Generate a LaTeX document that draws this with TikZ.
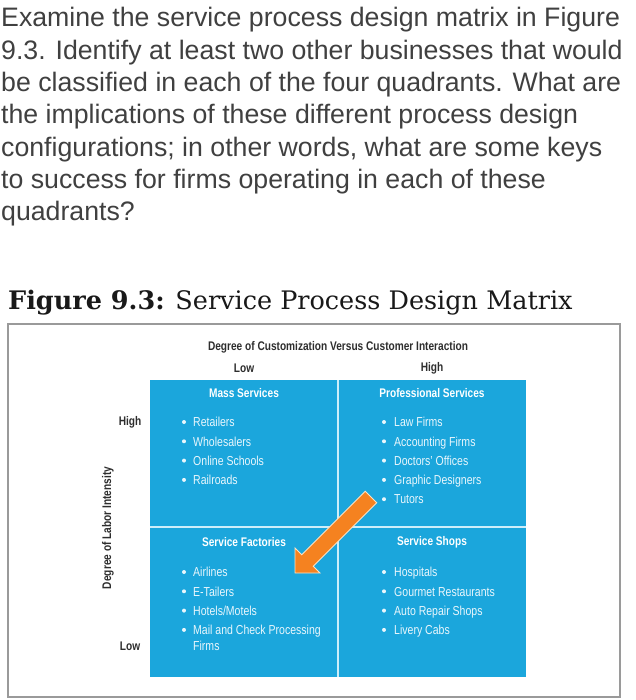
\documentclass[tikz,border=0pt]{standalone}
\usepackage{fontspec}
\setmainfont{Liberation Sans}
\newfontfamily\cond[FakeStretch=0.81]{Liberation Sans}
\newfontfamily\titlefont{DejaVu Serif}
\definecolor{qblue}{HTML}{1BA6DC}
\definecolor{divcol}{HTML}{CDEEFA}
\definecolor{arrowor}{HTML}{F58220}
\definecolor{arrowedge}{HTML}{FBE3C4}
\definecolor{paratext}{HTML}{404040}
\definecolor{labtext}{HTML}{2E2E2E}
\definecolor{framecol}{HTML}{9A9A9A}
\definecolor{celltext}{HTML}{E9F6FC}
\tikzset{
  paraline/.style={anchor=base west, inner sep=0pt, text=paratext, font=\fontsize{26.7}{32}\selectfont},
  axislab/.style={inner sep=0pt, text=labtext, font=\cond\bfseries\fontsize{12.5}{14}\selectfont},
  celltitle/.style={inner sep=0pt, text=white, font=\cond\bfseries\fontsize{12.5}{14}\selectfont},
  item/.style={anchor=base west, inner sep=0pt, text=celltext, font=\cond\fontsize{13}{15}\selectfont},
  bulletdot/.style={circle, fill=celltext, inner sep=0pt, minimum size=4pt},
  divider/.style={divcol, line width=2pt},
}
\begin{document}
\begin{tikzpicture}[x=1pt,y=-1pt]
\useasboundingbox (0,0) rectangle (635,700);
\fill[white] (0,0) rectangle (635,700);

% question paragraph
\node[paraline] (p1) at (1,27) {Examine the service process design matrix in Figure};
\node[paraline] (p2) at (1,59.3) {9.3. Identify at least two other businesses that would};
\node[paraline] (p3) at (1,91.6) {be classified in each of the four quadrants. What are};
\node[paraline] (p4) at (1,123.9) {the implications of these different process design};
\node[paraline] (p5) at (1,156.2) {configurations; in other words, what are some keys};
\node[paraline] (p6) at (1,188.5) {to success for firms operating in each of these};
\node[paraline] (p7) at (1,220.8) {quadrants?};

% figure title
\node[anchor=base west, inner sep=0pt, text=black!90, font=\titlefont\fontsize{25.5}{30}\selectfont] (title) at (8,309)
  {\textbf{Figure 9.3:} Service Process Design Matrix};

% frame
\draw[framecol, line width=1.5pt] (8,324) rectangle (620,697);

% axis labels
\node[axislab] (hdr) at (338,347) {Degree of Customization Versus Customer Interaction};
\node[axislab] (clow) at (244,368) {Low};
\node[axislab] (chigh) at (432,368) {High};
\node[axislab] (rhigh) at (130,422) {High};
\node[axislab] (rlow) at (130,646) {Low};
\node[axislab, rotate=90] (vlab) at (108,528) {Degree of Labor Intensity};

% quadrants
\fill[qblue] (150,380) rectangle (526,677);
\draw[divider] (338,380) -- (338,677);
\draw[divider] (150,527) -- (526,527);

\node[celltitle] (tms) at (244,393) {Mass Services};
\node[celltitle] (tps) at (432,393) {Professional Services};
\node[celltitle] (tsf) at (244,542) {Service Factories};
\node[celltitle] (tss) at (432,542) {Service Shops};

% Mass Services items
\foreach \t/\y [count=\i] in {Retailers/422, Wholesalers/441.3, Online Schools/460.6, Railroads/479.9}{
  \node[bulletdot] (msb\i) at (184,\y) {};
  \node[item] (msi\i) at (193,\y+4.7) {\t};
}
% Professional Services items
\foreach \t/\y [count=\i] in {Law Firms/422, Accounting Firms/441.3, Doctors’ Offices/460.6, Graphic Designers/479.9, Tutors/499.2}{
  \node[bulletdot] (psb\i) at (384,\y) {};
  \node[item] (psi\i) at (394,\y+4.7) {\t};
}
% Service Factories items
\foreach \t/\y [count=\i] in {Airlines/572, E-Tailers/591.3, {Hotels/Motels}/610.6, Mail and Check Processing/629.9}{
  \node[bulletdot] (sfb\i) at (184,\y) {};
  \node[item] (sfi\i) at (193,\y+4.7) {\t};
}
\node[item] (sfi5) at (193,650.7) {Firms};
% Service Shops items
\foreach \t/\y [count=\i] in {Hospitals/572, Gourmet Restaurants/591.3, Auto Repair Shops/610.6, Livery Cabs/629.9}{
  \node[bulletdot] (ssb\i) at (384,\y) {};
  \node[item] (ssi\i) at (394,\y+4.7) {\t};
}

% orange arrow
\filldraw[fill=arrowor, draw=arrowedge, line width=0.9pt, line join=miter]
  (365.3,491.3) -- (301.8,554.8) -- (295,548) -- (295,573) -- (320,573)
  -- (313.2,566.2) -- (376.7,502.7) -- cycle;
\end{tikzpicture}
\end{document}
